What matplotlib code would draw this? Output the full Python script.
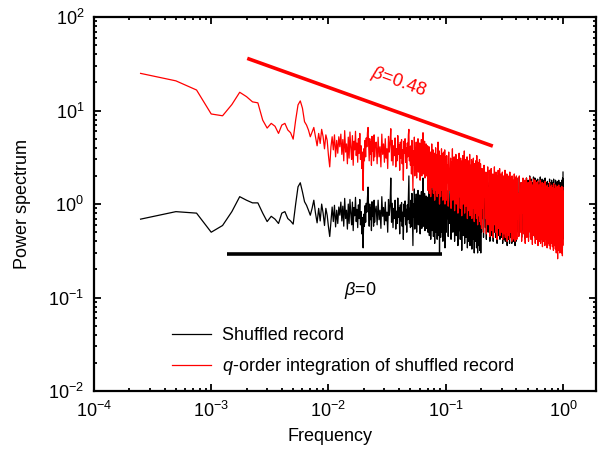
import matplotlib
matplotlib.use("Agg")
import matplotlib.pyplot as plt
import numpy as np

plt.rcParams['font.family'] = ['Liberation Sans', 'DejaVu Sans']
plt.rcParams['mathtext.fontset'] = 'custom'
plt.rcParams['mathtext.rm'] = 'Liberation Sans'
plt.rcParams['mathtext.it'] = 'Liberation Sans:italic'
plt.rcParams['mathtext.default'] = 'regular'

# frequency index k (f = k / 4000): every point at low f, thinned at high f
N = 4000
k_idx = (list(range(1, 101)) + list(range(102, 201, 2)) + list(range(202, 401, 2))
         + list(range(404, 801, 4)) + list(range(808, 1601, 8)) + list(range(1616, 4001, 16)))

# shuffled record (black)
shuffled = [
    0.69, 0.83, 0.80, 0.50, 0.59, 0.83, 1.20, 1.10, 1.03, 1.03,
    0.80, 0.65, 0.74, 0.69, 0.62, 0.80, 0.83, 0.70, 0.66, 0.61,
    1.0, 1.53, 1.69, 1.35, 1.06, 0.97, 0.86, 0.76, 0.9, 1.10,
    0.80, 0.63, 0.9, 0.66, 1.0, 0.8, 0.59, 0.9, 0.76, 0.57,
    0.45, 0.66, 0.93, 0.65, 0.97, 0.57, 0.86, 0.62, 0.93, 0.76,
    # k 51-100
    1.05, 0.66, 0.95, 0.58, 1.15, 0.70, 0.86, 0.54, 1.0, 0.62,
    1.12, 0.79, 0.60, 1.05, 0.52, 0.92, 0.75, 1.18, 0.65, 0.88,
    0.56, 0.98, 0.70, 1.12, 0.60, 0.83, 0.48, 0.72, 0.34, 0.78,
    0.58, 0.96, 0.64, 1.02, 0.82, 1.16, 1.52, 0.86, 0.58, 1.0,
    0.68, 0.92, 0.52, 1.06, 0.74, 0.88, 0.58, 1.1, 0.64, 0.82,
    # k 102-200
    0.95, 0.6, 1.1, 0.68, 0.86, 0.55, 1.2, 0.74, 0.92, 0.6,
    1.05, 0.66, 0.82, 0.5, 1.12, 0.76, 0.96, 1.9, 0.64, 1.02,
    0.56, 0.9, 0.7, 1.1, 0.54, 0.84, 0.62, 1.16, 0.72, 0.92,
    0.48, 0.98, 0.66, 1.04, 0.58, 0.82, 0.42, 1.0, 0.74, 1.08,
    0.6, 0.88, 0.5, 0.98, 0.68, 1.2, 2.0, 0.62, 0.9, 0.56,
    # k 202-400
    1.1, 0.58, 1.3, 0.64, 0.36, 1.0, 0.72, 1.45, 0.54, 1.12,
    0.66, 1.28, 0.5, 0.98, 0.76, 1.4, 0.6, 1.2, 0.64, 1.25,
    0.48, 1.05, 0.7, 1.36, 0.55, 1.14, 0.62, 1.9, 0.58, 1.02,
    0.74, 1.3, 0.52, 1.08, 0.66, 1.22, 0.55, 0.98, 0.7, 1.16,
    0.5, 1.2, 0.7, 1.5, 0.46, 1.0, 0.6, 1.34, 0.42, 1.08,
    0.78, 1.6, 0.52, 1.14, 0.64, 1.4, 0.45, 0.96, 0.74, 1.3,
    0.38, 1.1, 0.66, 1.48, 0.5, 1.04, 0.56, 1.26, 0.42, 0.92,
    0.8, 1.7, 0.46, 1.18, 0.6, 1.36, 0.3, 1.0, 0.7, 1.22,
    0.44, 1.06, 0.62, 1.44, 0.5, 0.96, 0.54, 1.3, 0.4, 0.9,
    0.74, 1.34, 0.46, 1.12, 0.58, 1.4, 0.34, 1.02, 0.66, 1.2,
    # k 404-800
    0.5, 1.4, 0.7, 1.1, 0.45, 1.6, 0.62, 0.98, 0.8, 1.3,
    0.42, 1.2, 0.66, 1.7, 0.5, 1.04, 0.76, 1.44, 0.4, 1.26,
    0.58, 1.5, 0.46, 1.0, 0.86, 1.32, 0.36, 1.16, 0.7, 1.6,
    0.52, 1.08, 0.42, 1.36, 0.74, 0.96, 0.32, 1.24, 0.6, 1.48,
    0.46, 1.12, 0.78, 1.66, 0.38, 1.04, 0.56, 1.3, 0.44, 1.18,
    0.66, 1.42, 0.34, 1.0, 0.82, 1.28, 0.4, 1.1, 0.54, 1.56,
    0.36, 1.14, 0.7, 0.98, 0.46, 1.34, 0.33, 1.06, 0.62, 1.24,
    0.42, 1.38, 0.5, 1.02, 0.3, 1.2, 0.74, 1.1, 0.4, 1.3,
    0.58, 0.98, 0.34, 1.46, 0.46, 1.06, 0.3, 1.26, 0.66, 1.16,
    0.36, 1.04, 0.54, 1.36, 0.32, 1.12, 0.46, 1.22, 0.3, 1.1,
    # k 808-1600
    0.5, 1.6, 0.7, 1.2, 0.44, 1.75, 0.9, 1.0, 0.56, 1.5,
    0.42, 1.3, 0.8, 1.7, 0.5, 1.1, 0.62, 1.6, 0.4, 1.25,
    0.86, 1.65, 0.46, 1.1, 0.6, 1.45, 0.4, 1.3, 0.76, 1.8,
    0.5, 1.0, 0.44, 1.55, 0.92, 1.2, 0.38, 1.4, 0.58, 1.7,
    0.46, 1.15, 0.72, 1.75, 0.42, 1.05, 0.54, 1.5, 0.44, 1.3,
    0.8, 1.6, 0.38, 1.1, 0.64, 1.45, 0.42, 1.2, 0.5, 1.7,
    0.4, 1.15, 0.88, 1.4, 0.44, 1.55, 0.36, 1.0, 0.6, 1.5,
    0.42, 1.35, 0.7, 1.1, 0.38, 1.65, 0.52, 1.2, 0.44, 1.45,
    0.74, 1.05, 0.38, 1.5, 0.48, 1.3, 0.4, 1.4, 0.62, 1.15,
    0.4, 1.6, 0.46, 1.2, 0.36, 1.45, 0.56, 1.3, 0.4, 1.55,
    # k 1616-4000
    0.5, 1.8, 0.8, 1.3, 0.46, 1.95, 1.0, 1.15, 0.6, 1.7,
    0.44, 1.5, 0.9, 1.85, 0.52, 1.25, 0.7, 1.75, 0.42, 1.45,
    0.95, 1.9, 0.48, 1.3, 0.66, 1.8, 0.44, 1.55, 0.82, 2.0,
    0.54, 1.2, 0.46, 1.85, 1.0, 1.4, 0.42, 1.7, 0.62, 1.95,
    0.5, 1.3, 0.78, 1.9, 0.44, 1.25, 0.58, 1.8, 0.48, 1.55,
    0.88, 1.85, 0.42, 1.3, 0.66, 1.7, 0.46, 1.5, 0.56, 1.95,
    0.44, 1.35, 0.92, 1.65, 0.48, 1.85, 0.4, 1.2, 0.62, 1.8,
    0.46, 1.55, 0.74, 1.25, 0.42, 1.9, 0.56, 1.4, 0.48, 1.7,
    0.8, 1.25, 0.4, 1.75, 0.5, 1.5, 0.44, 1.65, 0.66, 1.4,
    0.42, 1.85, 0.5, 1.35, 0.38, 1.7, 0.58, 1.55, 0.44, 1.8,
    0.72, 1.3, 0.4, 1.7, 0.48, 1.45, 0.38, 1.85, 0.54, 1.35,
    0.42, 1.6, 0.64, 1.25, 0.4, 1.8, 0.46, 1.5, 0.38, 1.7,
    0.6, 1.35, 0.4, 1.75, 0.36, 1.45, 0.5, 1.2, 0.38, 1.8,
    0.44, 1.6, 0.56, 1.3, 0.36, 1.7, 0.68, 1.4, 0.4, 1.65,
    0.48, 1.25, 0.36, 1.8, 0.56, 1.5, 0.34, 1.9, 0.42, 2.2,
]

# q-order integration of shuffled record (red)
integrated = [
    25.0, 20.8, 16.6, 9.2, 8.8, 11.6, 15.7, 14.1, 12.4, 12.1,
    7.9, 6.5, 7.3, 6.8, 5.7, 7.0, 7.3, 6.2, 5.8, 4.95,
    7.9, 11.5, 12.7, 10.6, 7.6, 7.0, 6.2, 5.25, 5.9, 6.6,
    5.25, 4.2, 5.7, 4.45, 6.3, 5.25, 3.9, 5.5, 4.8, 3.3,
    2.5, 4.1, 5.25, 3.8, 5.5, 3.2, 4.8, 3.5, 5.25, 4.1,
    # k 51-100
    5.6, 3.4, 4.9, 2.9, 6.1, 3.6, 4.4, 2.7, 5.2, 3.1,
    5.9, 4.0, 3.0, 5.4, 2.6, 4.7, 3.8, 6.0, 3.3, 4.5,
    2.8, 5.0, 3.5, 5.7, 3.0, 4.2, 2.4, 3.6, 1.4, 3.9,
    2.9, 4.8, 3.2, 5.1, 4.1, 5.8, 6.6, 4.3, 2.9, 5.0,
    3.4, 4.6, 2.6, 5.3, 3.7, 4.4, 2.9, 5.5, 3.2, 4.1,
    # k 102-200
    4.6, 2.7, 5.2, 3.2, 4.1, 2.5, 5.6, 3.4, 4.4, 2.8,
    5.0, 3.1, 3.9, 2.4, 5.3, 3.6, 4.5, 6.4, 2.9, 4.8,
    2.6, 4.2, 3.3, 5.1, 2.5, 3.9, 2.9, 5.4, 3.4, 4.3,
    2.3, 4.6, 3.1, 4.9, 2.7, 3.8, 1.8, 4.7, 3.5, 5.0,
    2.8, 4.0, 2.4, 4.5, 3.2, 5.5, 6.3, 2.9, 4.1, 2.6,
    # k 202-400
    4.2, 2.1, 4.8, 2.4, 1.4, 3.7, 2.6, 5.2, 2.0, 4.0,
    2.5, 4.6, 1.9, 3.6, 2.8, 5.0, 2.2, 4.3, 2.4, 4.5,
    1.8, 3.8, 2.6, 4.9, 2.0, 4.1, 2.3, 5.8, 2.1, 3.7,
    2.7, 4.7, 1.9, 3.9, 2.4, 4.4, 2.0, 3.6, 2.6, 4.2,
    1.4, 3.3, 2.0, 4.1, 1.3, 2.7, 1.7, 3.6, 1.2, 2.9,
    2.2, 4.4, 1.5, 3.1, 1.8, 3.8, 1.3, 2.6, 2.1, 3.5,
    1.1, 3.0, 1.9, 4.0, 1.4, 2.8, 1.6, 3.4, 1.2, 2.5,
    2.3, 4.6, 1.3, 3.2, 1.7, 3.7, 1.0, 2.7, 2.0, 3.3,
    1.2, 2.9, 1.8, 3.9, 1.4, 2.6, 1.5, 3.5, 1.1, 2.4,
    2.1, 3.6, 1.3, 3.0, 1.6, 3.8, 1.0, 2.8, 1.9, 3.2,
    # k 404-800
    1.1, 3.3, 1.7, 2.6, 0.95, 3.6, 1.4, 2.2, 1.9, 3.1,
    0.9, 2.8, 1.5, 3.9, 1.1, 2.4, 1.8, 3.2, 0.85, 2.9,
    1.3, 3.4, 1.0, 2.3, 2.0, 3.0, 0.8, 2.7, 1.6, 3.5,
    1.2, 2.5, 0.9, 3.1, 1.7, 2.2, 0.75, 2.9, 1.4, 3.3,
    1.0, 2.6, 1.8, 3.7, 0.8, 2.4, 1.3, 3.0, 0.95, 2.7,
    1.5, 3.2, 0.7, 2.3, 1.9, 2.9, 0.85, 2.5, 1.2, 3.4,
    0.75, 2.6, 1.6, 2.2, 1.0, 3.0, 0.7, 2.4, 1.4, 2.8,
    0.9, 3.1, 1.1, 2.3, 0.65, 2.7, 1.7, 2.5, 0.8, 2.9,
    1.3, 2.2, 0.7, 3.3, 1.0, 2.4, 0.6, 2.8, 1.5, 2.6,
    0.75, 2.3, 1.2, 3.0, 0.65, 2.5, 1.0, 2.7, 0.6, 2.4,
    # k 808-1600
    0.55, 2.4, 0.9, 1.7, 0.5, 2.6, 1.2, 1.4, 0.7, 2.2,
    0.48, 1.9, 1.0, 2.5, 0.6, 1.5, 0.8, 2.3, 0.45, 1.8,
    1.1, 2.4, 0.52, 1.6, 0.75, 2.1, 0.44, 1.9, 0.95, 2.5,
    0.6, 1.4, 0.5, 2.2, 1.2, 1.7, 0.42, 2.0, 0.7, 2.3,
    0.55, 1.6, 0.9, 2.4, 0.46, 1.5, 0.65, 2.1, 0.5, 1.8,
    1.0, 2.2, 0.42, 1.5, 0.8, 2.0, 0.48, 1.7, 0.6, 2.3,
    0.44, 1.6, 1.1, 1.9, 0.5, 2.1, 0.4, 1.4, 0.7, 2.0,
    0.46, 1.8, 0.85, 1.5, 0.42, 2.2, 0.6, 1.6, 0.5, 1.9,
    0.9, 1.4, 0.4, 2.0, 0.55, 1.7, 0.42, 1.8, 0.75, 1.5,
    0.45, 2.1, 0.5, 1.6, 0.4, 1.9, 0.65, 1.7, 0.42, 2.0,
    # k 1616-4000
    0.42, 1.9, 0.7, 1.3, 0.45, 2.0, 0.9, 1.1, 0.5, 1.7,
    0.4, 1.5, 0.8, 1.9, 0.48, 1.2, 0.6, 1.8, 0.38, 1.4,
    0.85, 1.9, 0.44, 1.25, 0.62, 1.7, 0.4, 1.5, 0.75, 1.95,
    0.5, 1.1, 0.42, 1.75, 0.95, 1.3, 0.37, 1.6, 0.58, 1.85,
    0.46, 1.2, 0.7, 1.8, 0.38, 1.15, 0.52, 1.7, 0.42, 1.45,
    0.8, 1.75, 0.36, 1.2, 0.6, 1.6, 0.4, 1.35, 0.5, 1.8,
    0.38, 1.25, 0.85, 1.5, 0.42, 1.7, 0.35, 1.1, 0.56, 1.65,
    0.4, 1.4, 0.68, 1.15, 0.36, 1.75, 0.5, 1.3, 0.42, 1.55,
    0.72, 1.1, 0.34, 1.6, 0.45, 1.35, 0.38, 1.5, 0.6, 1.25,
    0.36, 1.7, 0.44, 1.2, 0.33, 1.55, 0.52, 1.4, 0.38, 1.6,
    0.65, 1.15, 0.35, 1.5, 0.42, 1.3, 0.32, 1.65, 0.48, 1.2,
    0.36, 1.45, 0.58, 1.1, 0.33, 1.6, 0.4, 1.35, 0.3, 1.5,
    0.55, 1.2, 0.34, 1.55, 0.26, 1.3, 0.45, 1.05, 0.32, 1.6,
    0.38, 1.4, 0.5, 1.15, 0.3, 1.5, 0.62, 1.25, 0.34, 1.45,
    0.42, 1.1, 0.3, 1.55, 0.5, 1.3, 0.28, 1.4, 0.36, 1.5,
]

# reference slopes
fit_red_x = [0.00203, 0.252]
fit_red_y = [36.2, 4.17]
fit_black_x = [0.00137, 0.093]
fit_black_y = [0.292, 0.292]

freq = np.array(k_idx) / N

fig = plt.figure(figsize=(6.06, 4.5), dpi=100)
ax = fig.add_axes([0.155, 0.131, 0.828, 0.831])

ax.plot(freq, shuffled, color="black", lw=0.9, label="Shuffled record")
ax.plot(freq, integrated, color="red", lw=0.9,
        label=r"$\mathit{q}$-order integration of shuffled record")
ax.plot(fit_red_x, fit_red_y, color="red", lw=2.6, solid_capstyle="butt")
ax.plot(fit_black_x, fit_black_y, color="black", lw=2.6, solid_capstyle="butt")

ax.text(0.0395, 20.2, r"$\mathit{\beta}$=0.48", color="red", fontsize=13, rotation=-20,
        ha="center", va="center")
ax.text(0.0187, 0.12, r"$\mathit{\beta}$=0", color="black", fontsize=13, ha="center", va="center")

ax.set_xscale("log")
ax.set_yscale("log")
ax.set_xlim(1e-4, 1.9)
ax.set_ylim(1e-2, 1e2)
ax.set_xlabel("Frequency", fontsize=13)
ax.set_ylabel("Power spectrum", fontsize=13)
ax.xaxis.set_label_coords(0.47, -0.098)
ax.yaxis.set_label_coords(-0.125, 0.5)

ax.tick_params(which="both", direction="in", top=True, right=True, labelsize=13, width=1.3)
ax.tick_params(which="major", length=5, pad=7)
ax.tick_params(which="minor", length=2.5)
for s in ax.spines.values():
    s.set_linewidth(1.6)

ax.legend(loc="lower left", bbox_to_anchor=(0.155, 0.038), frameon=False, fontsize=13,
          handlelength=2.2, handletextpad=0.6, labelspacing=0.65, borderpad=0, borderaxespad=0)

fig.savefig("out.png", dpi=100)
